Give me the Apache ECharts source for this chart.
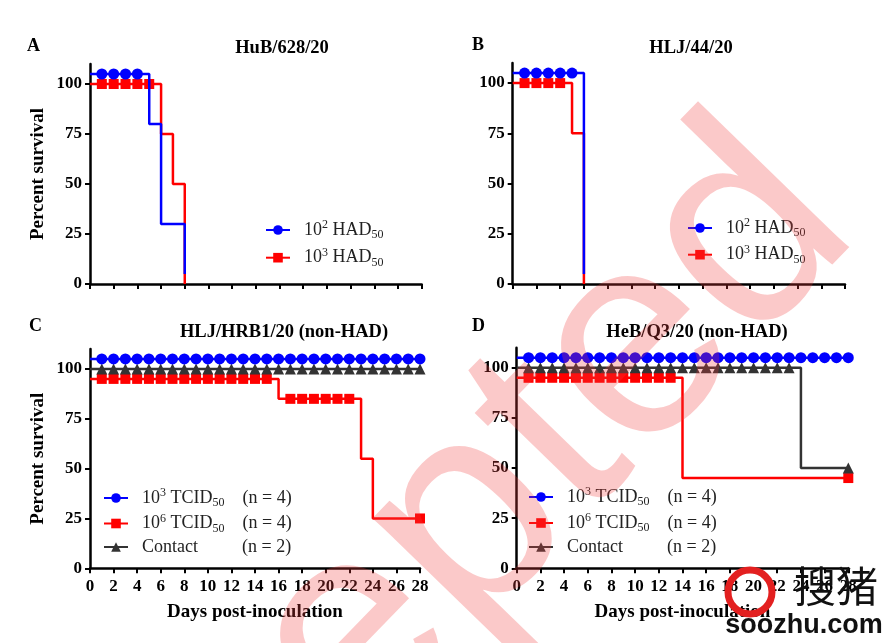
<!DOCTYPE html>
<html>
<head>
<meta charset="utf-8">
<script src="https://cdn.jsdelivr.net/npm/echarts@6/dist/echarts.min.js"></script>
<style>
html, body { margin: 0; padding: 0; background: #fff; }
#main { width: 893px; height: 643px; }
</style>
</head>
<body>
<div id="main"></div>
<script>
// survival ticks shown on y axes
var survTicks = [0, 25, 50, 75, 100];

// A  HuB/628/20  (step points [day, percent], censor marks at days)
var aLowSteps = [[0, 105], [5, 80], [6, 30], [8, 5]];
var aLowMarks = [1, 2, 3, 4];
var aHighSteps = [[0, 100], [6, 75], [7, 50], [8, 0]];
var aHighMarks = [1, 2, 3, 4, 5];

// B  HLJ/44/20
var bLowSteps = [[0, 105], [6, 5]];
var bLowMarks = [1, 2, 3, 4, 5];
var bHighSteps = [[0, 100], [5, 75], [6, 0]];
var bHighMarks = [1, 2, 3, 4];

// C  HLJ/HRB1/20 (non-HAD)
var cLowSteps = [[0, 105]];
var cLowMarks = [1, 2, 3, 4, 5, 6, 7, 8, 9, 10, 11, 12, 13, 14, 15, 16, 17, 18, 19, 20, 21, 22, 23, 24, 25, 26, 27, 28];
var cHighSteps = [[0, 95], [16, 85], [23, 55], [24, 25]];
var cHighMarks = [1, 2, 3, 4, 5, 6, 7, 8, 9, 10, 11, 12, 13, 14, 15, 17, 18, 19, 20, 21, 22, 28];
var cContactSteps = [[0, 100]];
var cContactMarks = [1, 2, 3, 4, 5, 6, 7, 8, 9, 10, 11, 12, 13, 14, 15, 16, 17, 18, 19, 20, 21, 22, 23, 24, 25, 26, 27, 28];

// D  HeB/Q3/20 (non-HAD)
var dLowSteps = [[0, 105]];
var dLowMarks = [1, 2, 3, 4, 5, 6, 7, 8, 9, 10, 11, 12, 13, 14, 15, 16, 17, 18, 19, 20, 21, 22, 23, 24, 25, 26, 27, 28];
var dHighSteps = [[0, 95], [14, 45]];
var dHighMarks = [1, 2, 3, 4, 5, 6, 7, 8, 9, 10, 11, 12, 13, 28];
var dContactSteps = [[0, 100], [24, 50]];
var dContactMarks = [1, 2, 3, 4, 5, 6, 7, 8, 9, 10, 11, 12, 13, 14, 15, 16, 17, 18, 19, 20, 21, 22, 23, 28];

var serif = '"Liberation Serif", "Times New Roman", serif';
var BLUE = '#0000ff', RED = '#ff0000', GREY = '#333333';

var grids = [
    {left: 90, top: 64, width: 331.7, height: 220},
    {left: 512.7, top: 63, width: 332.3, height: 221},
    {left: 90, top: 349, width: 330, height: 219.3},
    {left: 516.7, top: 347.7, width: 331.6, height: 220.6}
];

// merge step points (no symbol) and censor marks (with symbol)
function curve(steps, marks) {
    var pts = steps.map(function (p) {
        return {value: [p[0], p[1]], symbol: 'none'};
    });
    marks.forEach(function (d) {
        var y = steps[0][1];
        steps.forEach(function (p) { if (p[0] <= d) y = p[1]; });
        pts.push({value: [d, y]});
    });
    pts.sort(function (a, b) { return a.value[0] - b.value[0]; });
    return pts;
}

function km(name, g, steps, marks, color, symbol, size, z) {
    return {
        name: name, type: 'line', xAxisIndex: g, yAxisIndex: g,
        step: 'end', data: curve(steps, marks),
        symbol: symbol, symbolSize: size, showAllSymbol: true, clip: false,
        lineStyle: {width: 2.5, color: color},
        itemStyle: {color: color},
        emphasis: {disabled: true},
        z: z
    };
}

var xAxes = [], yAxes = [];
grids.forEach(function (g, i) {
    xAxes.push({
        gridIndex: i, type: 'value', min: 0, max: 28, interval: 2,
        name: i >= 2 ? 'Days post-inoculation' : '',
        nameLocation: 'middle', nameGap: 34,
        nameTextStyle: {fontFamily: serif, fontWeight: 'bold', fontSize: 19, color: '#000'},
        axisLine: {show: true, onZero: false, lineStyle: {color: '#000', width: 2.5}},
        axisTick: {show: true, length: 5, lineStyle: {color: '#000', width: 2}},
        axisLabel: {show: i >= 2, margin: 10, fontFamily: serif, fontWeight: 'bold', fontSize: 17, color: '#000'},
        splitLine: {show: false}
    });
    yAxes.push({
        gridIndex: i, type: 'value', min: 0, max: 110,
        name: (i === 0 || i === 2) ? 'Percent survival' : '',
        nameLocation: 'middle', nameGap: 42,
        nameTextStyle: {fontFamily: serif, fontWeight: 'bold', fontSize: 19, color: '#000'},
        axisLine: {show: true, lineStyle: {color: '#000', width: 2.5}},
        axisTick: {show: true, length: 5, customValues: survTicks, lineStyle: {color: '#000', width: 2}},
        axisLabel: {margin: 8, customValues: survTicks, fontFamily: serif, fontWeight: 'bold', fontSize: 17, color: '#000'},
        splitLine: {show: false}
    });
});

var legendRich = {
    p: {fontFamily: serif, fontSize: 18, color: '#222', lineHeight: 22, padding: [0, 0, 0, 9]},
    n: {fontFamily: serif, fontSize: 18, color: '#222', lineHeight: 22},
    sup: {fontFamily: serif, fontSize: 12, color: '#222', lineHeight: 12, verticalAlign: 'top'},
    sub: {fontFamily: serif, fontSize: 12, color: '#222', lineHeight: 12, verticalAlign: 'bottom'},
    subw: {fontFamily: serif, fontSize: 12, color: '#222', lineHeight: 12, verticalAlign: 'bottom', width: 30},
    cw: {fontFamily: serif, fontSize: 18, color: '#222', lineHeight: 22, padding: [0, 0, 0, 9], width: 100}
};
var legendText = {
    aLow: '{p|10}{sup|2}{n| HAD}{sub|50}',
    aHigh: '{p|10}{sup|3}{n| HAD}{sub|50}',
    bLow: '{p|10}{sup|2}{n| HAD}{sub|50}',
    bHigh: '{p|10}{sup|3}{n| HAD}{sub|50}',
    cLow: '{p|10}{sup|3}{n| TCID}{subw|50}{n|(n = 4)}',
    cHigh: '{p|10}{sup|6}{n| TCID}{subw|50}{n|(n = 4)}',
    cContact: '{cw|Contact}{n|(n = 2)}',
    dLow: '{p|10}{sup|3}{n| TCID}{subw|50}{n|(n = 4)}',
    dHigh: '{p|10}{sup|6}{n| TCID}{subw|50}{n|(n = 4)}',
    dContact: '{cw|Contact}{n|(n = 2)}'
};
function legend(names, left, top, gap) {
    return {
        orient: 'vertical', left: left, top: top, itemGap: gap,
        itemWidth: 24, itemHeight: 12, padding: 0,
        data: names, selectedMode: false,
        formatter: function (name) { return legendText[name]; },
        textStyle: {rich: legendRich}
    };
}

function label(text, x, y, size, align) {
    return {
        type: 'text', x: x, y: y,
        style: {text: text, fontFamily: serif, fontWeight: 'bold', fontSize: size, fill: '#000',
                align: align, verticalAlign: 'middle'}
    };
}

var option = {
    animation: false,
    backgroundColor: '#fff',
    grid: grids,
    xAxis: xAxes,
    yAxis: yAxes,
    legend: [
        legend(['aLow', 'aHigh'], 265, 219, 5.7),
        legend(['bLow', 'bHigh'], 687, 217, 4.7),
        legend(['cLow', 'cHigh', 'cContact'], 103, 487, 3.5),
        legend(['dLow', 'dHigh', 'dContact'], 528, 486, 4)
    ],
    series: [
        km('aLow', 0, aLowSteps, aLowMarks, BLUE, 'circle', 11, 4),
        km('aHigh', 0, aHighSteps, aHighMarks, RED, 'rect', 10, 3),
        km('bLow', 1, bLowSteps, bLowMarks, BLUE, 'circle', 11, 4),
        km('bHigh', 1, bHighSteps, bHighMarks, RED, 'rect', 10, 3),
        km('cLow', 2, cLowSteps, cLowMarks, BLUE, 'circle', 11, 4),
        km('cHigh', 2, cHighSteps, cHighMarks, RED, 'rect', 10, 3),
        km('cContact', 2, cContactSteps, cContactMarks, GREY, 'triangle', 11, 3),
        km('dLow', 3, dLowSteps, dLowMarks, BLUE, 'circle', 11, 4),
        km('dHigh', 3, dHighSteps, dHighMarks, RED, 'rect', 10, 3),
        km('dContact', 3, dContactSteps, dContactMarks, GREY, 'triangle', 11, 3)
    ],
    graphic: [
        label('A', 27, 46, 18, 'left'),
        label('HuB/628/20', 282, 48, 18.5, 'center'),
        label('B', 472, 45, 18, 'left'),
        label('HLJ/44/20', 691, 48, 18.5, 'center'),
        label('C', 29, 326, 18, 'left'),
        label('HLJ/HRB1/20 (non-HAD)', 284, 332, 18.5, 'center'),
        label('D', 472, 326, 18, 'left'),
        label('HeB/Q3/20 (non-HAD)', 697, 332, 18.5, 'center'),
        // diagonal watermark
        {
            type: 'text', x: 805, y: 178, rotation: 0.8, z: 100,
            style: {text: 'Accepted', fontFamily: '"Liberation Sans", Arial, sans-serif', fontSize: 290,
                    fill: 'rgba(240,60,60,0.28)', align: 'right', verticalAlign: 'middle'}
        },
        // site logo, bottom right
        {
            type: 'circle', shape: {cx: 750, cy: 592, r: 22}, z: 101,
            style: {fill: 'none', stroke: '#e32020', lineWidth: 7}
        },
        {
            type: 'text', x: 836, y: 586, z: 101,
            style: {text: '搜猪', fontFamily: '"Noto Sans CJK SC"', fontSize: 42,
                    fill: '#111', align: 'center', verticalAlign: 'middle'}
        },
        {
            type: 'text', x: 804, y: 626, z: 101,
            style: {text: 'soozhu.com', fontFamily: '"Liberation Sans", Arial, sans-serif', fontWeight: 'bold',
                    fontSize: 27, fill: '#111', align: 'center', verticalAlign: 'middle'}
        }
    ]
};

var chart = echarts.init(document.getElementById('main'), null, {renderer: 'canvas'});
chart.setOption(option);
</script>
</body>
</html>
